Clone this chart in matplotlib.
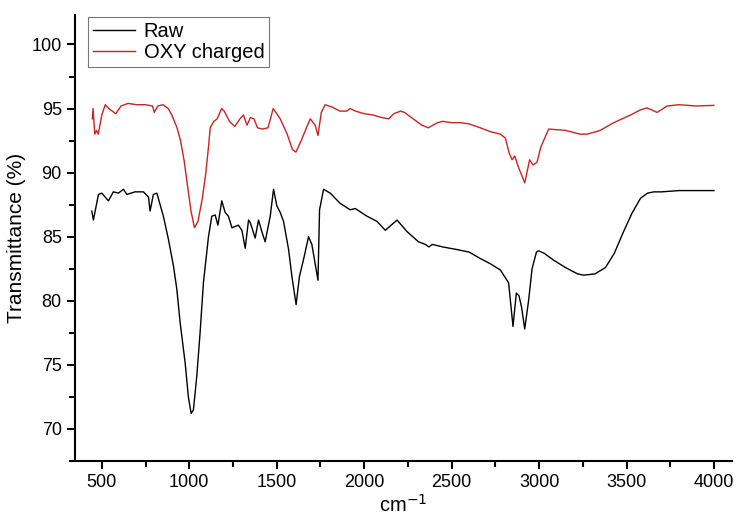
import matplotlib
matplotlib.use("Agg")
import matplotlib.pyplot as plt
from matplotlib.ticker import MultipleLocator

plt.rcParams['font.family'] = ['Liberation Sans', 'DejaVu Sans']

raw_x = [443, 452, 481, 500, 538, 566, 595, 624, 643, 690, 738, 767, 776, 795, 815,
         852, 881, 910, 929, 948, 977, 995, 1011, 1024, 1043, 1062, 1081, 1110, 1129,
         1148, 1164, 1186, 1205, 1224, 1244, 1281, 1301, 1320, 1339, 1349, 1377, 1396,
         1415, 1434, 1463, 1482, 1501, 1520, 1539, 1568, 1587, 1611, 1630, 1653, 1682,
         1701, 1716, 1736, 1745, 1768, 1806, 1863, 1920, 1949, 2016, 2073, 2121, 2188,
         2245, 2311, 2350, 2370, 2390, 2450, 2530, 2600, 2664, 2720, 2779, 2826, 2851,
         2870, 2885, 2900, 2918, 2940, 2960, 2985, 2998, 3030, 3080, 3150, 3220, 3255,
         3320, 3380, 3430, 3480, 3530, 3580, 3620, 3656, 3700, 3800, 3900, 4000]
raw_y = [87.0, 86.3, 88.3, 88.4, 87.8, 88.5, 88.4, 88.7, 88.3, 88.5, 88.5, 88.1, 87.0,
         88.3, 88.4, 86.6, 84.8, 82.7, 80.9, 78.3, 75.1, 72.5, 71.2, 71.5, 74.1, 77.5,
         81.4, 85.0, 86.6, 86.7, 85.9, 87.8, 86.9, 86.6, 85.7, 85.9, 85.5, 84.1, 86.3,
         86.1, 84.9, 86.3, 85.4, 84.6, 86.6, 88.7, 87.4, 86.9, 86.2, 84.0, 81.9, 79.7,
         81.9, 83.2, 85.0, 84.4, 83.2, 81.6, 87.1, 88.7, 88.4, 87.6, 87.1, 87.2, 86.6,
         86.2, 85.5, 86.3, 85.4, 84.6, 84.4, 84.2, 84.4, 84.2, 84.0, 83.8, 83.3, 82.9,
         82.4, 81.4, 78.0, 80.6, 80.4, 79.5, 77.8, 80.0, 82.5, 83.8, 83.9, 83.7, 83.2,
         82.6, 82.1, 82.0, 82.1, 82.6, 83.7, 85.3, 86.8, 88.0, 88.4, 88.5, 88.5, 88.6,
         88.6, 88.6]

oxy_x = [446, 450, 460, 470, 480, 500, 520, 540, 580, 610, 650, 700, 750, 790, 800,
         820, 850, 880, 900, 930, 950, 970, 990, 1010, 1030, 1050, 1075, 1095, 1110,
         1120, 1140, 1160, 1185, 1200, 1230, 1260, 1290, 1310, 1330, 1350, 1370, 1390,
         1420, 1450, 1480, 1520, 1560, 1590, 1610, 1640, 1670, 1692, 1720, 1736, 1755,
         1777, 1820, 1860, 1900, 1920, 1950, 2000, 2050, 2100, 2140, 2170, 2207, 2230,
         2280, 2330, 2367, 2420, 2450, 2500, 2550, 2600, 2664, 2720, 2779, 2807, 2830,
         2846, 2861, 2880, 2918, 2946, 2965, 2988, 3010, 3055, 3150, 3236, 3275, 3350,
         3427, 3523, 3580, 3618, 3675, 3732, 3800, 3900, 3999]
oxy_y = [94.2, 95.0, 93.0, 93.3, 93.0, 94.5, 95.3, 95.0, 94.6, 95.2, 95.4, 95.3, 95.3,
         95.2, 94.7, 95.2, 95.3, 95.0, 94.5, 93.5, 92.5, 91.0, 89.0, 87.0, 85.7, 86.2,
         88.0, 90.0, 92.0, 93.5, 94.0, 94.2, 95.0, 94.8, 94.0, 93.6, 94.2, 94.5, 93.7,
         94.3, 94.2, 93.5, 93.4, 93.5, 95.0, 94.2, 93.0, 91.8, 91.6, 92.5, 93.5, 94.2,
         93.7, 92.9, 94.7, 95.3, 95.1, 94.8, 94.8, 95.0, 94.8, 94.6, 94.5, 94.3, 94.2,
         94.6, 94.8, 94.7, 94.2, 93.7, 93.5, 93.9, 94.0, 93.9, 93.9, 93.8, 93.5, 93.2,
         93.0, 92.7, 91.5, 91.0, 91.3, 90.5, 89.2, 91.0, 90.6, 90.8, 92.0, 93.4, 93.3,
         93.0, 93.0, 93.3, 93.9, 94.5, 94.9, 95.05, 94.7, 95.2, 95.3, 95.2, 95.25]

fig = plt.figure(figsize=(7.37, 5.21), dpi=100)
ax = fig.add_axes([0.1018, 0.1152, 0.8914, 0.856])

ax.plot(raw_x, raw_y, color='black', lw=1.0, label='Raw')
ax.plot(oxy_x, oxy_y, color='#cc2222', lw=1.0, label='OXY charged')

ax.set_xlim(347, 4103)
ax.set_ylim(67.5, 102.3)
ax.xaxis.set_major_locator(MultipleLocator(500))
ax.xaxis.set_minor_locator(MultipleLocator(250))
ax.yaxis.set_minor_locator(MultipleLocator(2.5))
ax.set_yticks([70, 75, 80, 85, 90, 95, 100])

for s in ['top', 'right']:
    ax.spines[s].set_visible(False)
for s in ['left', 'bottom']:
    ax.spines[s].set_linewidth(1.5)
ax.tick_params(which='major', direction='out', length=6, width=1.5, labelsize=13)
ax.tick_params(which='minor', direction='out', length=4, width=1.5)

ax.set_xlabel('cm$^{-1}$', fontsize=14.5, labelpad=2)
ax.set_ylabel('Transmittance (%)', fontsize=15, labelpad=4)

leg = ax.legend(loc='upper left', bbox_to_anchor=(0.02, 0.996), fontsize=14.5,
                frameon=True, fancybox=False, edgecolor='#555555',
                handlelength=2.1, borderpad=0.25, labelspacing=0.1,
                handletextpad=0.4, borderaxespad=0.0)
leg.get_frame().set_linewidth(0.8)

fig.savefig('out.png', dpi=100)
